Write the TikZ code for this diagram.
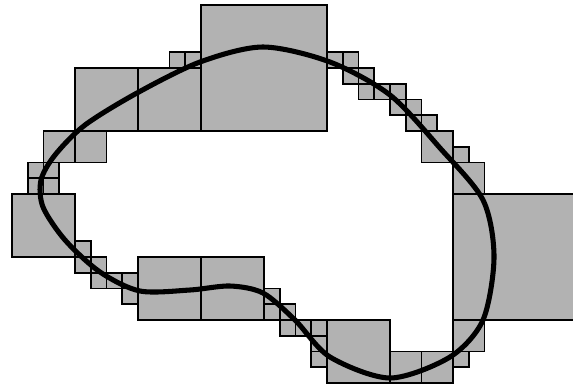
\documentclass[tikz,border=0pt]{standalone}
\begin{document}
\begin{tikzpicture}[x=0.75pt,y=-0.75pt,
  cellbox/.style={fill=black!30,draw=black,line width=1.4pt},
  outline/.style={draw=black,line width=3.8pt}]
\useasboundingbox (0,0) rectangle (573,390);
\clip (0,0) rectangle (573,390);
\def\su{15.75}
% cells: i/j/size
\foreach \i/\j/\s in {12/0/8,28/12/8,
  4/4/4,8/4/4,0/12/4,8/16/4,12/16/4,20/20/4,
  2/8/2,4/8/2,26/8/2,28/10/2,28/20/2,24/22/2,26/22/2,
  10/3/1,11/3/1,20/3/1,21/3/1,21/4/1,22/4/1,22/5/1,23/5/1,24/5/1,24/6/1,25/6/1,25/7/1,26/7/1,28/9/1,
  1/10/1,2/10/1,1/11/1,2/11/1,
  4/15/1,4/16/1,5/16/1,5/17/1,6/17/1,7/17/1,7/18/1,
  16/18/1,16/19/1,17/19/1,17/20/1,18/20/1,19/20/1,19/21/1,19/22/1,
  28/22/1}
{
  \path[cellbox] ({12+\su*\i},{5+\su*\j}) rectangle ({12+\su*(\i+\s)},{5+\su*(\j+\s)});
}
\draw[outline] plot[smooth cycle] coordinates {
  (263,47) (330,62) (390,95) (440,148) (483,200) (494,257) (483,320)
  (450,357) (390,378) (330,357) (295,320) (263,293) (230,286) (190,290)
  (140,291) (100,272) (65,240) (43,207) (41,180) (55,155) (85,125)
  (137,93) (200,62)};
\end{tikzpicture}
\end{document}
